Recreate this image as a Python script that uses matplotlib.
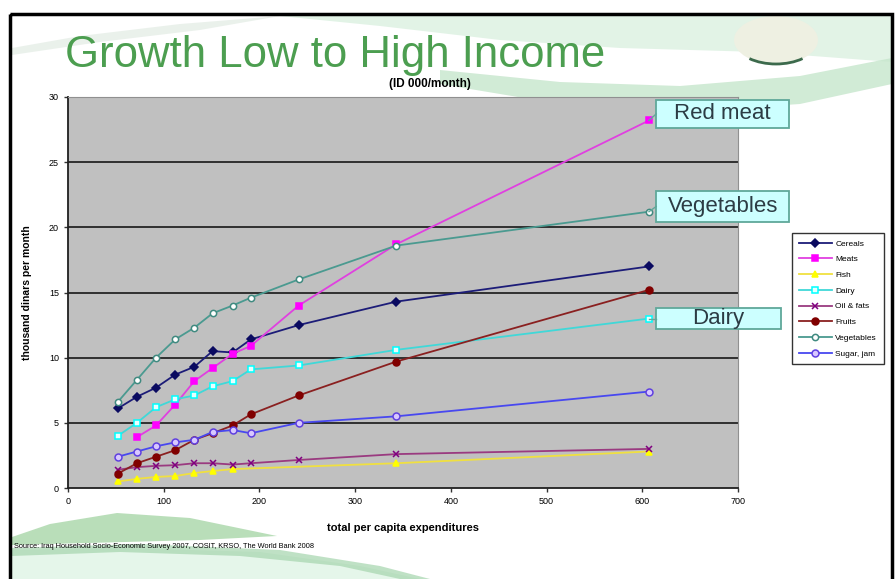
import numpy as np
import matplotlib
matplotlib.use("Agg")
import matplotlib.pyplot as plt
import matplotlib.patches as mpatches
from matplotlib.lines import Line2D

plt.rcParams['font.family'] = ['Liberation Sans', 'DejaVu Sans']

# per capita expenditure groups (ID 000/month)
expenditure = [52, 72, 92, 112, 132, 151, 172, 191, 241, 343, 607]

nan = np.nan
cereals    = [6.1, 7.0, 7.7, 8.7, 9.3, 10.5, 10.4, 11.4, 12.5, 14.3, 17.0]
meats      = [nan, 3.9, 4.8, 6.4, 8.2, 9.2, 10.3, 10.9, 14.0, 18.7, 28.2]
fish       = [0.5, 0.7, 0.85, 0.92, 1.15, 1.3, 1.45, nan, nan, 1.9, 2.8]
dairy      = [4.0, 5.0, 6.2, 6.8, 7.1, 7.8, 8.2, 9.1, 9.4, 10.6, 13.0]
oil_fats   = [1.4, 1.6, 1.7, 1.75, 1.9, 1.9, 1.8, 1.9, 2.15, 2.6, 3.0]
fruits     = [1.1, 1.9, 2.4, 2.9, 3.7, 4.2, 4.8, 5.65, 7.1, 9.7, 15.2]
vegetables = [6.6, 8.3, 10.0, 11.4, 12.3, 13.4, 14.0, 14.6, 16.0, 18.6, 21.2]
sugar_jam  = [2.4, 2.8, 3.2, 3.5, 3.7, 4.3, 4.45, 4.2, 5.0, 5.5, 7.4]

series_names = ["Cereals", "Meats", "Fish", "Dairy", "Oil & fats",
                "Fruits", "Vegetables", "Sugar, jam"]
series_values = [cereals, meats, fish, dairy, oil_fats, fruits, vegetables, sugar_jam]

# (line colour, marker, marker face, marker edge, marker size)
styles = [
    ("#1c1c78", "D", "#0a0a60", "#0a0a60", 4.2),
    ("#e040e0", "s", "#ff00ff", "#ff00ff", 5),
    ("#f0e040", "^", "#ffff00", "#ffff00", 5),
    ("#40d8d8", "s", "#e8ffff", "#00ffff", 5),
    ("#9a3a80", "x", "#800080", "#800080", 4),
    ("#8a2020", "o", "#800000", "#800000", 5),
    ("#4a9a90", "o", "#ffffff", "#408a80", 4.5),
    ("#4848f0", "o", "#d8c8ff", "#6040e0", 5),
]

callouts = [("Red meat", 28.7), ("Vegetables", 21.6), ("Dairy", 13.0)]

W, H = 896, 579
fig = plt.figure(figsize=(W / 100, H / 100), dpi=100)
fig.patch.set_facecolor("white")

# slide background: swooshes, ornament, frame
bg = fig.add_axes([0, 0, 1, 1], zorder=0)
bg.set_xlim(0, W)
bg.set_ylim(H, 0)
bg.axis("off")

bg.add_patch(mpatches.Polygon(
    [(260, 14), (892, 14), (892, 62), (760, 52), (620, 48), (500, 40), (380, 26)],
    closed=True, fc="#dff2e4", ec="none", alpha=0.9))
bg.add_patch(mpatches.Polygon(
    [(12, 48), (80, 36), (180, 24), (280, 16), (200, 30), (100, 42), (12, 55)],
    closed=True, fc="#dde8df", ec="none", alpha=0.6))
bg.add_patch(mpatches.Polygon(
    [(440, 70), (560, 82), (680, 86), (800, 76), (892, 58),
     (892, 84), (800, 104), (680, 112), (560, 104), (440, 84)],
    closed=True, fc="#c6e6cc", ec="none", alpha=0.8))
bg.add_patch(mpatches.Ellipse((776, 40), 84, 48, fc="#eef0e2", ec="none"))
bg.add_patch(mpatches.Arc((776, 40), 84, 48, theta1=35, theta2=145,
                          color="#3c6a4c", lw=2))
bg.add_patch(mpatches.Polygon(
    [(12, 537), (50, 524), (117, 513), (190, 518), (277, 536), (200, 540), (12, 545)],
    closed=True, fc="#a8d6a8", ec="none", alpha=0.8))
bg.add_patch(mpatches.Polygon(
    [(12, 550), (120, 548), (260, 552), (360, 566), (420, 579), (12, 579)],
    closed=True, fc="#e3f5e8", ec="none", alpha=0.9))
bg.add_patch(mpatches.Polygon(
    [(12, 548), (140, 544), (280, 550), (380, 566), (430, 579), (400, 579),
     (340, 566), (240, 556), (120, 552), (12, 556)],
    closed=True, fc="#a5d5ad", ec="none", alpha=0.7))
bg.add_patch(mpatches.Rectangle((10, 14), 882, 600, fill=False, ec="black", lw=2.5))

bg.text(65, 67, "Growth Low to High Income", fontsize=31.5, color="#4c9e50")
bg.text(430, 84, "(ID 000/month)", fontsize=8.5, fontweight="bold", ha="center", va="center")
bg.text(14, 546, "Source: Iraq Household Socio-Economic Survey 2007, COSIT, KRSO, The World Bank 2008",
        fontsize=5.3, va="center")

# chart area
ax = fig.add_axes([68 / W, 1 - 488 / H, 670 / W, 391 / H], zorder=2)
ax.set_facecolor("#c0c0c0")
ax.set_xlim(0, 700)
ax.set_ylim(0, 30)
ax.set_xticks(range(0, 701, 100))
ax.set_yticks(range(0, 31, 5))
ax.tick_params(labelsize=6.5, length=3, width=1, color="#333333")
for y in range(5, 31, 5):
    ax.axhline(y, color="#303030", lw=1.4, zorder=1)
for side in ["top", "right"]:
    ax.spines[side].set_color("#909090")
for side in ["left", "bottom"]:
    ax.spines[side].set_color("#202020")
    ax.spines[side].set_linewidth(1.3)

x = np.array(expenditure, dtype=float)
handles = []
for name, vals, (lc, mk, mf, me, ms) in zip(series_names, series_values, styles):
    v = np.array(vals, dtype=float)
    ok = ~np.isnan(v)
    ax.plot(x[ok], v[ok], color=lc, lw=1.3, marker=mk, mfc=mf, mec=me,
            ms=ms, mew=1.1, zorder=3, clip_on=False)
    handles.append(Line2D([], [], color=lc, lw=1.3, marker=mk, mfc=mf, mec=me,
                          ms=ms, mew=1.1))

ax.set_xlabel("total per capita expenditures", fontsize=8, fontweight="bold", labelpad=12)
ax.set_ylabel("thousand dinars per month", fontsize=7.5, fontweight="bold", labelpad=12)

# callout boxes next to the last points
box_x0 = 614.5
box_w = {"Red meat": 139, "Vegetables": 139, "Dairy": 130}
box_h = {"Red meat": 2.2, "Vegetables": 2.4, "Dairy": 1.6}
last_vals = {"Red meat": meats[-1], "Vegetables": vegetables[-1], "Dairy": dairy[-1]}
for label, yc in callouts:
    w, h = box_w[label], box_h[label]
    ax.add_patch(mpatches.Rectangle((box_x0, yc - h / 2), w, h,
                                    fc="#ccffff", ec="#5fa89a", lw=1.3, zorder=4, clip_on=False))
    ax.plot([expenditure[-1], box_x0], [last_vals[label], yc], color="#5fa89a",
            lw=1.0, zorder=4, clip_on=False)
    ax.text(box_x0 + w / 2, yc, label, fontsize=16,
            color="#2c3c44", ha="center", va="center", zorder=5, clip_on=False)

leg = fig.legend(handles, series_names, loc="upper left",
                 bbox_to_anchor=(792 / W, 1 - 233 / H), fontsize=6,
                 frameon=True, fancybox=False, edgecolor="black",
                 handlelength=4.0, labelspacing=0.95, borderpad=0.8,
                 handletextpad=0.4, borderaxespad=0)
leg.get_frame().set_linewidth(1.0)
leg.set_zorder(3)

fig.savefig("out.png", dpi=100)
